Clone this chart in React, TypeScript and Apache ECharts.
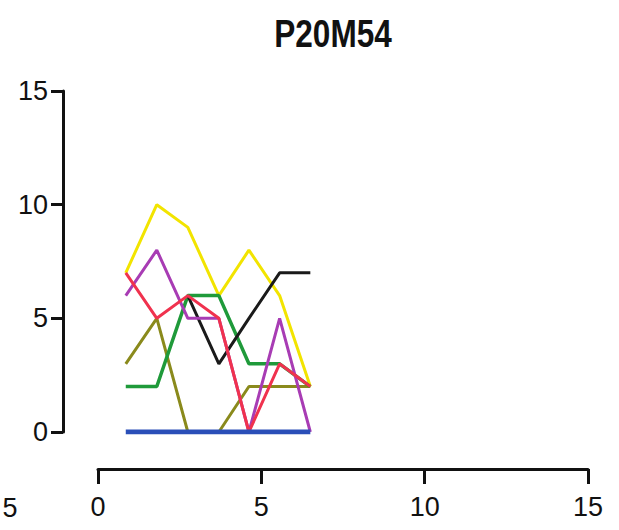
import React, { useEffect, useRef } from "react";
import * as echarts from "echarts";

const titleText = "P20M54";
const xValues = [0.85, 1.8, 2.75, 3.7, 4.62, 5.56, 6.5];
const yellowVals = [7, 10, 9, 6, 8, 6, 2];
const oliveVals = [3, 5, 0, 0, 2, 2, 2];
const greenVals = [2, 2, 6, 6, 3, 3, 2];
const blackVals: (number | null)[] = [null, null, 6, 3, 5, 7, 7];
const purpleVals = [6, 8, 5, 5, 0, 5, 0];
const redVals = [7, 5, 6, 5, 0, 3, 2];
const blueVals = [0, 0, 0, 0, 0, 0, 0];

const seriesDefs = [
  { name: "yellow", vals: yellowVals, color: "#f2e400", width: 3 },
  { name: "olive", vals: oliveVals, color: "#8a8a1c", width: 3 },
  { name: "green", vals: greenVals, color: "#1f9a3a", width: 3.5 },
  { name: "black", vals: blackVals, color: "#1a1a1a", width: 3 },
  { name: "purple", vals: purpleVals, color: "#a83cb4", width: 3 },
  { name: "red", vals: redVals, color: "#f0324e", width: 3 },
  { name: "blue", vals: blueVals, color: "#2a4fb8", width: 5 },
];

export default function App() {
  const ref = useRef<HTMLDivElement>(null);
  useEffect(() => {
    if (!ref.current) return;
    const chart = echarts.init(ref.current, null, { renderer: "svg" });
    const font = "'Liberation Sans', Arial, sans-serif";
    chart.setOption({
      animation: false,
      backgroundColor: "#ffffff",
      graphic: [
        {
          type: "text",
          x: 333,
          y: 33,
          scaleX: 0.83,
          style: {
            text: titleText,
            font: `bold 38px ${font}`,
            fill: "#111",
            align: "center",
            verticalAlign: "middle",
          },
        },
        {
          type: "text",
          x: 10,
          y: 508,
          style: {
            text: "5",
            font: `27px ${font}`,
            fill: "#111",
            align: "center",
            verticalAlign: "middle",
          },
        },
      ],
      grid: { left: 98, right: 31, top: 91, bottom: 98, containLabel: false },
      xAxis: {
        type: "value",
        min: 0,
        max: 15,
        interval: 5,
        offset: 37,
        axisLine: { show: true, onZero: false, lineStyle: { color: "#111", width: 3 } },
        axisTick: { show: true, length: 15, lineStyle: { color: "#111", width: 3 } },
        axisLabel: { fontFamily: font, fontSize: 27, color: "#111", margin: 24 },
        splitLine: { show: false },
      },
      yAxis: {
        type: "value",
        min: 0,
        max: 15,
        interval: 5,
        offset: 35,
        axisLine: { show: true, onZero: false, lineStyle: { color: "#111", width: 3 } },
        axisTick: { show: true, length: 12, lineStyle: { color: "#111", width: 3 } },
        axisLabel: { fontFamily: font, fontSize: 27, color: "#111", margin: 15 },
        splitLine: { show: false },
      },
      series: seriesDefs.map((s) => ({
        name: s.name,
        type: "line",
        data: s.vals.map((v, i) => [xValues[i], v]),
        symbol: "none",
        connectNulls: false,
        lineStyle: { color: s.color, width: s.width },
        itemStyle: { color: s.color },
      })),
    });
    return () => chart.dispose();
  }, []);
  return (
    <div
      ref={ref}
      style={{ position: "absolute", left: 0, top: 0, width: 619, height: 530 }}
    />
  );
}
